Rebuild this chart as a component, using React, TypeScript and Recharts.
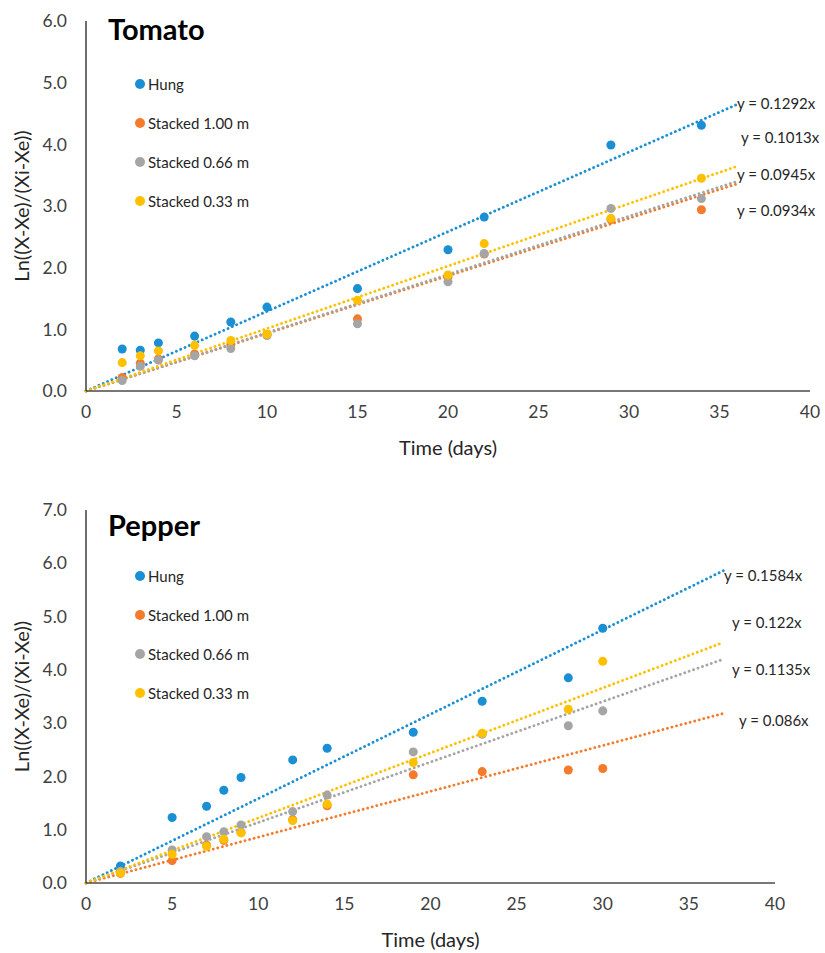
import React from 'react';
import { ComposedChart, Scatter, XAxis, YAxis, ZAxis, ReferenceLine, Label } from 'recharts';

// ---- Data ----
const seriesNames = ['Hung', 'Stacked 1.00 m', 'Stacked 0.66 m', 'Stacked 0.33 m'];
const seriesColors = ['#1b8fd4', '#f47a2c', '#a5a5a5', '#ffc000'];

const tomatoDays = [2, 3, 4, 6, 8, 10, 15, 20, 22, 29, 34];
const tomatoHung = [0.68, 0.66, 0.78, 0.89, 1.12, 1.36, 1.66, 2.29, 2.82, 3.99, 4.31];
const tomatoS100 = [0.22, 0.45, 0.52, 0.6, 0.75, 0.92, 1.17, 1.85, 2.22, 2.78, 2.94];
const tomatoS066 = [0.17, 0.4, 0.5, 0.57, 0.69, 0.9, 1.09, 1.77, 2.23, 2.96, 3.12];
const tomatoS033 = [0.46, 0.57, 0.65, 0.74, 0.82, 0.92, 1.47, 1.88, 2.39, 2.8, 3.45];
const tomatoSlopes = [0.1292, 0.0934, 0.0945, 0.1013];
const tomatoEquations = ['y = 0.1292x', 'y = 0.1013x', 'y = 0.0945x', 'y = 0.0934x'];
const tomatoTrendEnd = 36;
const tomatoYTicks = [0, 1, 2, 3, 4, 5, 6];

const pepperDays = [2, 5, 7, 8, 9, 12, 14, 19, 23, 28, 30];
const pepperHung = [0.32, 1.23, 1.44, 1.74, 1.98, 2.31, 2.53, 2.83, 3.41, 3.85, 4.78];
const pepperS100 = [0.18, 0.42, 0.71, 0.8, 0.95, 1.19, 1.45, 2.03, 2.09, 2.12, 2.15];
const pepperS066 = [0.22, 0.62, 0.87, 0.96, 1.09, 1.34, 1.65, 2.46, 2.79, 2.95, 3.23];
const pepperS033 = [0.19, 0.54, 0.69, 0.82, 0.94, 1.17, 1.48, 2.26, 2.81, 3.26, 4.16];
const pepperSlopes = [0.1584, 0.086, 0.1135, 0.122];
const pepperEquations = ['y = 0.1584x', 'y = 0.122x', 'y = 0.1135x', 'y = 0.086x'];
const pepperTrendEnd = 37;
const pepperYTicks = [0, 1, 2, 3, 4, 5, 6, 7];

const xTicks = [0, 5, 10, 15, 20, 25, 30, 35, 40];

const FONT = 'Lato, "Liberation Sans", sans-serif';

type PanelProps = {
  title: string;
  titleTop: number;
  days: number[];
  values: number[][];
  slopes: number[];
  trendEnd: number;
  yTicks: number[];
  equations: string[];
  eqPos: [number, number][];
  height: number;
  margin: { top: number; right: number; bottom: number; left: number };
  legendTop: number;
  xLabelDy: number;
};

function Panel(p: PanelProps) {
  return (
    <div style={{ position: 'relative', width: 825, height: p.height }}>
      <ComposedChart width={825} height={p.height} margin={p.margin}>
        <XAxis
          type="number"
          dataKey="x"
          domain={[0, 40]}
          ticks={xTicks}
          allowDataOverflow
          tickLine={false}
          tickSize={0}
          tickMargin={15}
          height={30}
          axisLine={{ stroke: '#4a4a4a', strokeWidth: 1.6 }}
          tick={{ fill: '#404040', fontSize: 17.5, fontFamily: FONT }}
        >
          <Label
            content={({ viewBox }: any) => (
              <text
                x={viewBox.x + viewBox.width / 2}
                y={viewBox.y + p.xLabelDy}
                textAnchor="middle"
                dominantBaseline="middle"
                fill="#262626"
                fontSize={20}
                fontFamily={FONT}
              >
                Time (days)
              </text>
            )}
          />
        </XAxis>
        <YAxis
          type="number"
          dataKey="y"
          domain={[0, p.yTicks[p.yTicks.length - 1]]}
          ticks={p.yTicks}
          width={86}
          tickLine={false}
          tickSize={0}
          tickMargin={19}
          axisLine={{ stroke: '#4a4a4a', strokeWidth: 1.6 }}
          tickFormatter={(v: number) => v.toFixed(1)}
          tick={{ fill: '#404040', fontSize: 17.5, fontFamily: FONT }}
        >
          <Label
            content={({ viewBox }: any) => (
              <text
                x={24}
                y={viewBox.y + viewBox.height / 2}
                transform={`rotate(-90 24 ${viewBox.y + viewBox.height / 2})`}
                textAnchor="middle"
                dominantBaseline="middle"
                fill="#262626"
                fontSize={20}
                fontFamily={FONT}
              >
                Ln((X-Xe)/(Xi-Xe))
              </text>
            )}
          />
        </YAxis>
        <ZAxis range={[100, 100]} />
        {p.values.map((vals, i) => (
          <Scatter
            key={seriesNames[i]}
            name={seriesNames[i]}
            data={p.days.map((d, j) => ({ x: d, y: vals[j] }))}
            fill={seriesColors[i]}
            isAnimationActive={false}
          />
        ))}
        {p.slopes.map((s, i) => (
          <ReferenceLine
            key={'t' + i}
            segment={[{ x: 0, y: 0 }, { x: p.trendEnd, y: s * p.trendEnd }]}
            stroke={seriesColors[i]}
            strokeWidth={2.8}
            strokeDasharray="0.1 4.6"
            strokeLinecap="round"
            ifOverflow="visible"
          />
        ))}
      </ComposedChart>
      <div style={{ position: 'absolute', left: 108, top: p.titleTop, fontFamily: FONT, fontWeight: 700, fontSize: 29, color: '#000', lineHeight: 1.2 }}>
        {p.title}
      </div>
      <div style={{ position: 'absolute', left: 135, top: p.legendTop, fontFamily: FONT, fontSize: 15, color: '#262626' }}>
        {seriesNames.map((n, i) => (
          <div key={n} style={{ display: 'flex', alignItems: 'center', height: 39 }}>
            <span style={{ width: 10, height: 10, borderRadius: 5, background: seriesColors[i], display: 'inline-block', marginRight: 3 }} />
            <span>{n}</span>
          </div>
        ))}
      </div>
      {p.equations.map((e, i) => (
        <div
          key={e}
          style={{
            position: 'absolute',
            left: p.eqPos[i][0],
            top: p.eqPos[i][1],
            transform: 'translateY(-50%)',
            fontFamily: FONT,
            fontSize: 15,
            color: '#262626',
            whiteSpace: 'nowrap',
            lineHeight: 1,
          }}
        >
          {e}
        </div>
      ))}
    </div>
  );
}

export default function App() {
  return (
    <div style={{ position: 'absolute', left: 0, top: 0, width: 825, height: 953, background: '#fff' }}>
      <Panel
        title="Tomato"
        titleTop={12}
        days={tomatoDays}
        values={[tomatoHung, tomatoS100, tomatoS066, tomatoS033]}
        slopes={tomatoSlopes}
        trendEnd={tomatoTrendEnd}
        yTicks={tomatoYTicks}
        equations={tomatoEquations}
        eqPos={[[737, 103], [741, 137], [737, 174], [737, 210]]}
        height={490}
        margin={{ top: 21, right: 15, bottom: 69, left: 0 }}
        legendTop={64}
        xLabelDy={59}
      />
      <div style={{ position: 'absolute', left: 0, top: 490 }}>
        <Panel
          title="Pepper"
          titleTop={18}
          days={pepperDays}
          values={[pepperHung, pepperS100, pepperS066, pepperS033]}
          slopes={pepperSlopes}
          trendEnd={pepperTrendEnd}
          yTicks={pepperYTicks}
          equations={pepperEquations}
          eqPos={[[724, 85], [732, 132], [732, 179], [739, 230]]}
          height={463}
          margin={{ top: 20, right: 50, bottom: 40, left: 0 }}
          legendTop={66}
          xLabelDy={59}
        />
      </div>
    </div>
  );
}
